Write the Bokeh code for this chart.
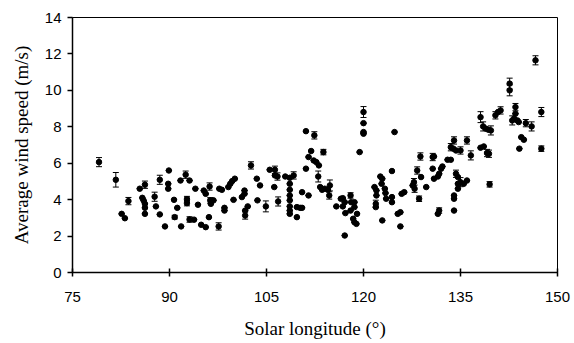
from bokeh.plotting import figure
from bokeh.models import ColumnDataSource, Whisker, TeeHead, FixedTicker, Range1d
from bokeh.embed import file_html
from bokeh.resources import INLINE

# Solar longitude (deg)
solar_lon = [
    79.1, 81.7, 82.6, 83.1, 83.65, 85.4, 86.2, 85.8, 86.0, 86.2, 86.2, 86.2,
    87.7, 87.9, 88.5, 88.5, 89.3, 89.9, 89.8, 89.8, 90.7, 90.8, 91.2, 91.7,
    91.8, 92.5, 93.1, 92.7, 92.7, 93.1, 93.8, 94.0, 94.4, 94.9, 95.6, 95.3,
    95.6, 96.2, 96.1, 96.3, 96.8, 96.4, 97.6, 97.7, 98.1, 98.5, 98.5, 99.1,
    99.4, 99.7, 100.1, 99.9, 101.2, 101.6, 101.6, 101.7, 101.7, 102.1, 102.6,
    103.5, 104.0, 103.6, 104.9, 105.5, 106.3, 106.3, 106.7, 106.2, 106.8,
    107.9, 108.6, 108.6, 108.6, 108.6, 108.6, 108.6, 108.6, 108.6, 109.2,
    109.7, 109.7, 110.2, 110.5, 110.5, 111.1, 111.1, 111.5, 111.5, 111.9,
    112.4, 112.3, 112.7, 113.1, 113.8, 113.0, 113.3, 113.6, 114.0, 114.5,
    114.8, 114.7, 115.8, 116.5, 116.8, 117.1, 116.8, 117.2, 117.1, 118.0,
    118.1, 118.6, 118.6, 118.0, 118.4, 118.6, 118.9, 119.0, 119.4, 120.0,
    120.0, 120.0, 120.0, 121.7, 122.0, 122.0, 121.9, 121.9, 122.6, 122.9,
    122.8, 122.9, 123.3, 123.4, 123.5, 124.8, 124.4, 124.4, 124.4, 125.3,
    125.7, 125.7, 125.9, 126.3, 127.8, 127.6, 127.9, 128.3, 128.6, 128.8,
    128.9, 129.7, 130.7, 130.9, 130.7, 130.9, 131.5, 131.5, 131.7, 131.7,
    132.0, 132.2, 133.0, 133.5, 133.5, 134.0, 133.9, 134.3, 134.3, 134.6,
    134.6, 134.6, 134.0, 134.0, 134.0, 135.0, 135.0, 136.0, 136.0, 136.6,
    135.5, 138.1, 138.1, 138.6, 138.5, 138.9, 139.3, 139.7, 139.1, 139.4,
    139.5, 140.4, 140.8, 141.2, 142.6, 142.6, 143.0, 143.3, 143.5, 143.5,
    143.8, 144.0, 144.4, 144.8, 144.1, 145.1, 146.0, 146.6, 147.5, 147.5,
]

# Average wind speed (m/s)
wind_speed = [
    6.06, 5.09, 3.22, 2.98, 3.92, 4.6, 4.82, 4.1, 3.95, 3.77, 3.55, 3.22,
    4.16, 3.63, 5.09, 3.19, 2.53, 5.6, 4.87, 4.6, 3.99, 3.04, 3.55, 5.05,
    2.53, 5.37, 5.05, 4.03, 3.81, 2.91, 2.9, 4.6, 3.72, 2.62, 2.49, 4.5,
    4.32, 4.72, 3.04, 3.96, 3.96, 3.77, 2.53, 4.6, 4.54, 3.55, 3.4, 4.69,
    4.87, 5.02, 5.15, 3.99, 4.14, 4.5, 4.32, 3.4, 3.13, 3.63, 5.88,
    5.15, 4.78, 3.96, 3.63, 5.64, 5.64, 5.33, 5.27, 4.69, 3.9,
    5.27, 5.2, 4.87, 4.54, 4.23, 3.96, 3.63, 3.4, 3.22, 5.33,
    3.59, 3.04, 3.55, 3.55, 4.41, 7.76, 5.7, 4.23, 6.34, 6.67,
    7.53, 6.15, 6.06, 5.88, 6.61, 5.27, 4.69, 4.54, 4.6, 4.54,
    4.78, 4.23, 3.63, 4.05, 4.08, 3.86, 3.63, 3.26, 2.03, 4.23,
    3.86, 3.86, 3.59, 3.4, 2.95, 2.76, 2.67, 3.22, 6.61, 8.81,
    8.2, 7.71, 7.62, 4.69, 4.5, 4.23, 3.77, 3.59, 5.27, 5.15,
    4.87, 2.86, 4.6, 4.36, 4.05, 7.71, 5.57, 4.14, 3.86, 3.22,
    3.31, 2.53, 4.32, 4.41, 4.96, 4.78, 4.6, 5.6, 4.05, 6.37,
    5.24, 4.69, 6.34, 6.37, 5.7, 5.15, 5.27, 3.22, 3.4, 5.42,
    5.7, 5.82, 6.19, 6.19, 6.88, 7.25, 6.8, 6.7, 5.42, 5.24,
    4.87, 4.6, 4.23, 4.05, 3.4, 6.7, 4.96, 7.25, 5.05, 6.43,
    4.87, 8.53, 6.85, 6.92, 8.02, 7.9, 7.84, 7.8, 6.56, 6.52,
    4.84, 8.63, 8.81, 8.9, 10.37, 10.0, 8.35, 8.44, 9.08, 8.72,
    8.35, 8.26, 7.43, 7.29, 6.8, 8.2, 8.02, 11.65, 8.81, 6.8,
]

# Error (m/s), 0 where no bar is visible
wind_err = [
    0.25, 0.4, 0, 0, 0.2, 0, 0.2, 0, 0, 0, 0, 0,
    0.25, 0, 0.25, 0, 0, 0, 0, 0, 0, 0.1, 0, 0,
    0, 0.2, 0, 0.15, 0.15, 0.15, 0, 0, 0, 0, 0, 0,
    0, 0.2, 0, 0.15, 0, 0, 0.2, 0, 0, 0, 0, 0,
    0, 0, 0, 0, 0, 0, 0, 0, 0.2, 0, 0.2,
    0, 0, 0, 0.3, 0, 0.2, 0, 0.2, 0, 0.25,
    0, 0, 0, 0, 0, 0, 0, 0, 0, 0.2,
    0, 0, 0, 0, 0, 0, 0, 0, 0, 0,
    0.2, 0, 0, 0, 0.15, 0.3, 0, 0, 0, 0,
    0.3, 0.2, 0, 0, 0, 0, 0, 0, 0, 0.15,
    0, 0, 0, 0, 0, 0, 0, 0, 0, 0.3,
    0, 0, 0, 0, 0, 0, 0.2, 0, 0, 0,
    0, 0, 0, 0, 0, 0, 0, 0, 0, 0,
    0, 0, 0, 0, 0.2, 0, 0.2, 0.2, 0.15, 0.2,
    0, 0, 0.2, 0, 0, 0, 0, 0, 0.15, 0,
    0, 0, 0, 0, 0.2, 0.2, 0, 0, 0.2, 0,
    0, 0, 0, 0, 0, 0.2, 0.25, 0.2, 0, 0.25,
    0, 0.3, 0, 0, 0.25, 0, 0, 0.25, 0.2, 0.2,
    0.15, 0.2, 0, 0.2, 0.3, 0.3, 0.25, 0, 0.2, 0,
    0, 0, 0, 0, 0, 0.2, 0.25, 0.25, 0.25, 0.15,
]

x_ticks = [75, 90, 105, 120, 135, 150]
y_ticks = [0, 2, 4, 6, 8, 10, 12, 14]

lower = [v - e for v, e in zip(wind_speed, wind_err)]
upper = [v + e for v, e in zip(wind_speed, wind_err)]
src = ColumnDataSource(dict(x=solar_lon, y=wind_speed, lo=lower, hi=upper))

p = figure(width=572, height=341, output_backend="svg", toolbar_location=None,
           x_range=Range1d(75, 150), y_range=Range1d(0, 14),
           min_border_left=72, min_border_right=15, min_border_top=17,
           min_border_bottom=69)
p.xgrid.visible = False
p.ygrid.visible = False
p.outline_line_color = "black"
p.outline_line_width = 1
p.background_fill_color = "white"
p.border_fill_color = "white"

w = Whisker(source=src, base="x", lower="lo", upper="hi",
            line_color="black", line_width=1,
            upper_head=TeeHead(size=6, line_color="black", line_width=1),
            lower_head=TeeHead(size=6, line_color="black", line_width=1))
p.add_layout(w)
p.scatter("x", "y", source=src, size=5.5, marker="circle",
          fill_color="black", line_color="black")

p.xaxis.ticker = FixedTicker(ticks=x_ticks)
p.yaxis.ticker = FixedTicker(ticks=y_ticks)
for ax in (p.xaxis, p.yaxis):
    ax.axis_line_color = "black"
    ax.axis_line_width = 1.5
    ax.major_tick_line_color = "black"
    ax.major_tick_line_width = 1.5
    ax.minor_tick_line_color = None
    ax.major_label_text_font = "Liberation Sans"
    ax.major_label_text_font_size = "15px"
    ax.major_label_text_color = "black"
    ax.axis_label_text_font = "Liberation Serif"
    ax.axis_label_text_font_size = "19px"
    ax.axis_label_text_font_style = "normal"
    ax.axis_label_text_color = "black"

p.xaxis.major_tick_in = 4
p.xaxis.major_tick_out = 4
p.xaxis.major_label_standoff = 15
p.xaxis.axis_label = "Solar longitude (°)"
p.xaxis.axis_label_standoff = 13

p.yaxis.major_tick_in = 0
p.yaxis.major_tick_out = 5
p.yaxis.major_label_standoff = 6
p.yaxis.axis_label = "Average wind speed (m/s)"
p.yaxis.axis_label_standoff = 10

open("out.html", "w").write(file_html(p, INLINE))
